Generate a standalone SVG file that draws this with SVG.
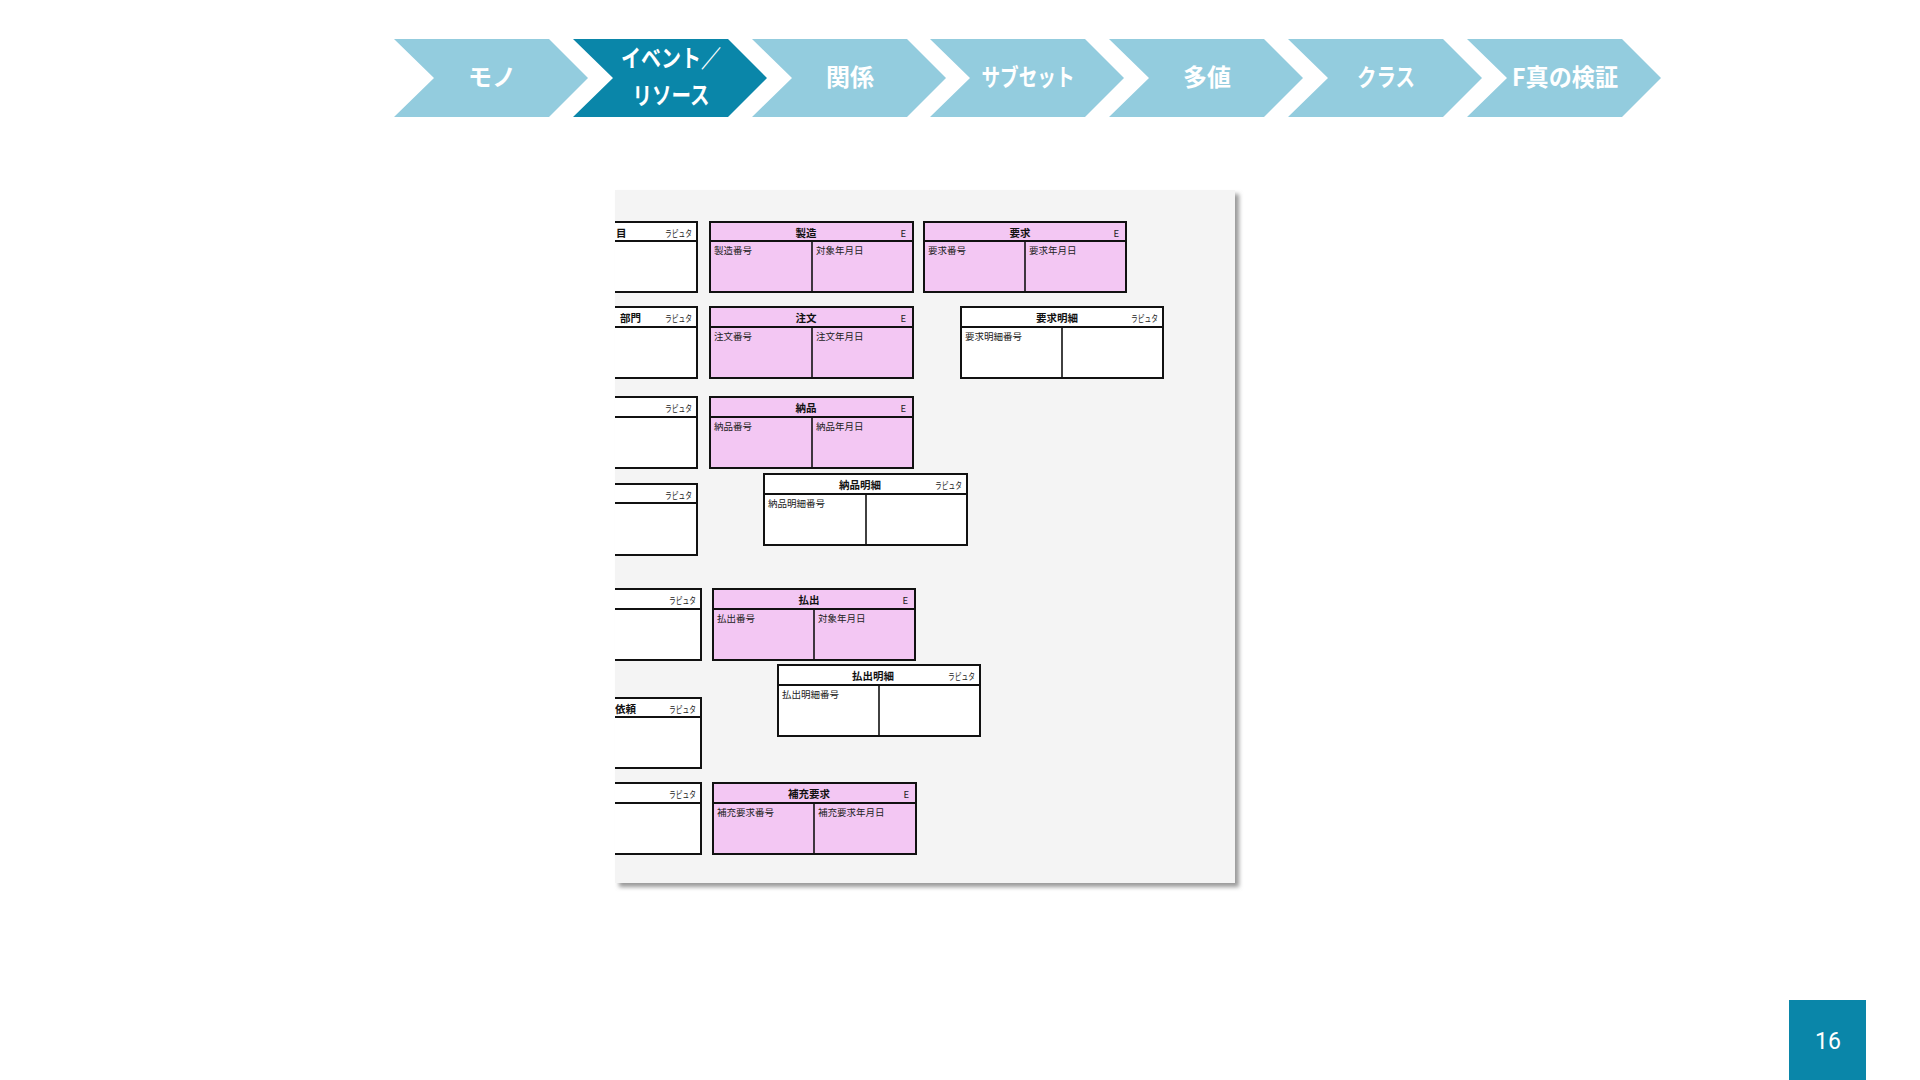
<svg xmlns="http://www.w3.org/2000/svg" width="1920" height="1080" viewBox="0 0 1920 1080">
<style>
.chev{fill:#93CCDE}
.chev.on{fill:#0A86A9}
.ct{font-family:"Noto Sans CJK JP","Noto Sans",sans-serif;font-weight:700;font-size:24px;fill:#fff;text-anchor:middle}
.box{stroke:#111;stroke-width:2}
.pink{fill:#F3C7F3}
.white{fill:#fff}
.div{stroke:#111;stroke-width:1.6}
.ti{font-family:"Noto Sans CJK JP",sans-serif;font-weight:700;font-size:10.5px;fill:#111;text-anchor:middle}
.tl{font-family:"Noto Sans CJK JP",sans-serif;font-weight:700;font-size:10.5px;fill:#111}
.at{font-family:"Noto Sans CJK JP",sans-serif;font-size:9.5px;fill:#222}
.tag{font-family:"Noto Sans CJK JP",sans-serif;font-size:9.5px;fill:#222;text-anchor:end}
.pn{font-family:Roboto,"Liberation Sans",sans-serif;font-size:23px;fill:#fff;text-anchor:middle}
</style>
<defs>
<clipPath id="panelClip"><rect x="615" y="190" width="620" height="693"/></clipPath>
<filter id="sh" x="-5%" y="-5%" width="110%" height="110%"><feGaussianBlur stdDeviation="2"/></filter>
</defs>
<rect width="1920" height="1080" fill="#fff"/>

<g id="steps">
<g id="step1"><polygon class="chev" points="394,39 549,39 588,78 549,117 394,117 434,78"/><text class="ct" x="492" y="86">モノ</text></g>
<g id="step2"><polygon class="chev on" points="573,39 728,39 767,78 728,117 573,117 613,78"/><text class="ct" x="671" y="67" textLength="100" lengthAdjust="spacingAndGlyphs">イベント／</text><text class="ct" x="671" y="104" textLength="77" lengthAdjust="spacingAndGlyphs">リソース</text></g>
<g id="step3"><polygon class="chev" points="752,39 907,39 946,78 907,117 752,117 792,78"/><text class="ct" x="850" y="86">関係</text></g>
<g id="step4"><polygon class="chev" points="930,39 1085,39 1124,78 1085,117 930,117 970,78"/><text class="ct" x="1028" y="86" textLength="93" lengthAdjust="spacingAndGlyphs">サブセット</text></g>
<g id="step5"><polygon class="chev" points="1109,39 1264,39 1303,78 1264,117 1109,117 1149,78"/><text class="ct" x="1207" y="86">多値</text></g>
<g id="step6"><polygon class="chev" points="1288,39 1443,39 1482,78 1443,117 1288,117 1328,78"/><text class="ct" x="1386" y="86" textLength="58" lengthAdjust="spacingAndGlyphs">クラス</text></g>
<g id="step7"><polygon class="chev" points="1467,39 1622,39 1661,78 1622,117 1467,117 1507,78"/><text class="ct" x="1565" y="86" textLength="106" lengthAdjust="spacingAndGlyphs">F真の検証</text></g>
</g>

<g id="panel">
<rect x="619" y="194" width="620" height="693" fill="#9a9a9a" filter="url(#sh)"/>
<rect x="615" y="190" width="620" height="693" fill="#F4F4F4"/>
</g>

<g id="connectors"></g>

<g clip-path="url(#panelClip)">
<g id="p1"><rect class="box white" x="560" y="222" width="137" height="70"/><line class="box" x1="560" y1="241" x2="697" y2="241"/><text class="tl" x="616" y="237">目</text><text class="tag" x="692" y="237" textLength="27" lengthAdjust="spacingAndGlyphs">ラピュタ</text></g>
<g id="seizou"><rect class="box pink" x="710" y="222" width="203" height="70"/><line class="box" x1="710" y1="241" x2="913" y2="241"/><line class="div" x1="812" y1="241" x2="812" y2="292"/><text class="ti" x="806" y="237">製造</text><text class="tag" x="906" y="237">E</text><text class="at" x="714" y="254">製造番号</text><text class="at" x="816" y="254">対象年月日</text></g>
<g id="youkyuu"><rect class="box pink" x="924" y="222" width="202" height="70"/><line class="box" x1="924" y1="241" x2="1126" y2="241"/><line class="div" x1="1025" y1="241" x2="1025" y2="292"/><text class="ti" x="1020" y="237">要求</text><text class="tag" x="1119" y="237">E</text><text class="at" x="928" y="254">要求番号</text><text class="at" x="1029" y="254">要求年月日</text></g>

<g id="p2"><rect class="box white" x="560" y="307" width="137" height="71"/><line class="box" x1="560" y1="327" x2="697" y2="327"/><text class="tl" x="620" y="322">部門</text><text class="tag" x="692" y="322" textLength="27" lengthAdjust="spacingAndGlyphs">ラピュタ</text></g>
<g id="chuumon"><rect class="box pink" x="710" y="307" width="203" height="71"/><line class="box" x1="710" y1="327" x2="913" y2="327"/><line class="div" x1="812" y1="327" x2="812" y2="378"/><text class="ti" x="806" y="322">注文</text><text class="tag" x="906" y="322">E</text><text class="at" x="714" y="340">注文番号</text><text class="at" x="816" y="340">注文年月日</text></g>
<g id="youkyuumeisai"><rect class="box white" x="961" y="307" width="202" height="71"/><line class="box" x1="961" y1="327" x2="1163" y2="327"/><line class="div" x1="1062" y1="327" x2="1062" y2="378"/><text class="ti" x="1057" y="322">要求明細</text><text class="tag" x="1158" y="322" textLength="27" lengthAdjust="spacingAndGlyphs">ラピュタ</text><text class="at" x="965" y="340">要求明細番号</text></g>

<g id="p3"><rect class="box white" x="560" y="397" width="137" height="71"/><line class="box" x1="560" y1="417" x2="697" y2="417"/><text class="tag" x="692" y="412" textLength="27" lengthAdjust="spacingAndGlyphs">ラピュタ</text></g>
<g id="nouhin"><rect class="box pink" x="710" y="397" width="203" height="71"/><line class="box" x1="710" y1="417" x2="913" y2="417"/><line class="div" x1="812" y1="417" x2="812" y2="468"/><text class="ti" x="806" y="412">納品</text><text class="tag" x="906" y="412">E</text><text class="at" x="714" y="430">納品番号</text><text class="at" x="816" y="430">納品年月日</text></g>

<g id="p4"><rect class="box white" x="560" y="484" width="137" height="71"/><line class="box" x1="560" y1="503" x2="697" y2="503"/><text class="tag" x="692" y="499" textLength="27" lengthAdjust="spacingAndGlyphs">ラピュタ</text></g>
<g id="nouhinmeisai"><rect class="box white" x="764" y="474" width="203" height="71"/><line class="box" x1="764" y1="494" x2="967" y2="494"/><line class="div" x1="866" y1="494" x2="866" y2="545"/><text class="ti" x="860" y="489">納品明細</text><text class="tag" x="962" y="489" textLength="27" lengthAdjust="spacingAndGlyphs">ラピュタ</text><text class="at" x="768" y="507">納品明細番号</text></g>

<g id="p5"><rect class="box white" x="560" y="589" width="141" height="71"/><line class="box" x1="560" y1="609" x2="701" y2="609"/><text class="tag" x="696" y="604" textLength="27" lengthAdjust="spacingAndGlyphs">ラピュタ</text></g>
<g id="haraidashi"><rect class="box pink" x="713" y="589" width="202" height="71"/><line class="box" x1="713" y1="609" x2="915" y2="609"/><line class="div" x1="814" y1="609" x2="814" y2="660"/><text class="ti" x="809" y="604">払出</text><text class="tag" x="908" y="604">E</text><text class="at" x="717" y="622">払出番号</text><text class="at" x="818" y="622">対象年月日</text></g>
<g id="haraidashimeisai"><rect class="box white" x="778" y="665" width="202" height="71"/><line class="box" x1="778" y1="685" x2="980" y2="685"/><line class="div" x1="879" y1="685" x2="879" y2="736"/><text class="ti" x="873" y="680">払出明細</text><text class="tag" x="975" y="680" textLength="27" lengthAdjust="spacingAndGlyphs">ラピュタ</text><text class="at" x="782" y="698">払出明細番号</text></g>

<g id="p6"><rect class="box white" x="560" y="698" width="141" height="70"/><line class="box" x1="560" y1="717" x2="701" y2="717"/><text class="tl" x="615" y="713">依頼</text><text class="tag" x="696" y="713" textLength="27" lengthAdjust="spacingAndGlyphs">ラピュタ</text></g>

<g id="p7"><rect class="box white" x="560" y="783" width="141" height="71"/><line class="box" x1="560" y1="803" x2="701" y2="803"/><text class="tag" x="696" y="798" textLength="27" lengthAdjust="spacingAndGlyphs">ラピュタ</text></g>
<g id="hojuuyoukyuu"><rect class="box pink" x="713" y="783" width="203" height="71"/><line class="box" x1="713" y1="803" x2="916" y2="803"/><line class="div" x1="814" y1="803" x2="814" y2="854"/><text class="ti" x="809" y="798">補充要求</text><text class="tag" x="909" y="798">E</text><text class="at" x="717" y="816">補充要求番号</text><text class="at" x="818" y="816">補充要求年月日</text></g>
</g>

<g id="pagenum"><rect x="1789" y="1000" width="77" height="80" fill="#0A86A9"/><text class="pn" x="1828" y="1049">16</text></g>
</svg>
